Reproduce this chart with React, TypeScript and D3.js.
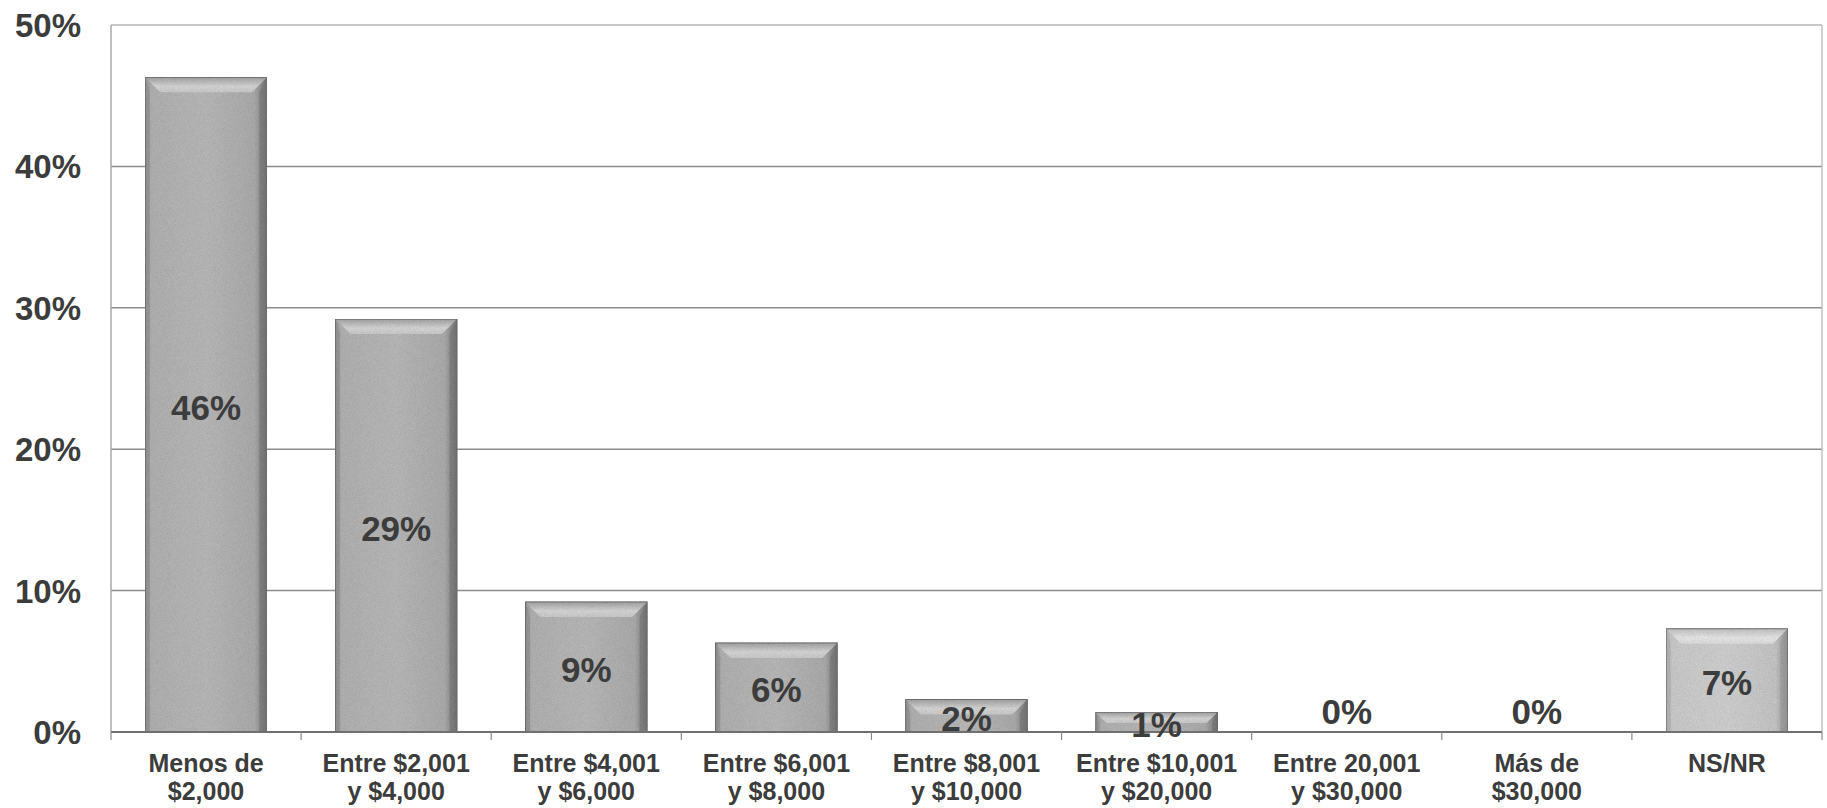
import React, { useEffect, useRef } from 'react';
import * as d3 from 'd3';

// categories (two-line labels) and values in percent
const categories: string[][] = [
  ['Menos de', '$2,000'],
  ['Entre $2,001', 'y $4,000'],
  ['Entre $4,001', 'y $6,000'],
  ['Entre $6,001', 'y $8,000'],
  ['Entre $8,001', 'y $10,000'],
  ['Entre $10,001', 'y $20,000'],
  ['Entre 20,001', 'y $30,000'],
  ['Más de', '$30,000'],
  ['NS/NR'],
];
const values = [46.3, 29.2, 9.2, 6.3, 2.3, 1.4, 0, 0, 7.3];
const valueLabels = ['46%', '29%', '9%', '6%', '2%', '1%', '0%', '0%', '7%'];
const yTicks = [0, 10, 20, 30, 40, 50];
const lightBar = [false, false, false, false, false, false, false, false, true];

const W = 1827;
const H = 808;
const margin = { top: 25, right: 5, bottom: 76, left: 111 };
const textColor = '#3c3c3c';

const Chart: React.FC = () => {
  const svgRef = useRef<SVGSVGElement>(null);

  useEffect(() => {
    if (!svgRef.current) return;
    const svg = d3.select(svgRef.current);
    svg.selectAll('*').remove();

    const x = d3.scaleBand<number>()
      .domain(d3.range(categories.length))
      .range([margin.left, W - margin.right])
      .padding(0);
    const y = d3.scaleLinear().domain([0, 50]).range([H - margin.bottom, margin.top]);

    const defs = svg.append('defs');
    const filter = defs.append('filter').attr('id', 'grain').attr('x', 0).attr('y', 0).attr('width', 1).attr('height', 1);
    filter.append('feTurbulence').attr('type', 'fractalNoise').attr('baseFrequency', 1.4).attr('numOctaves', 1).attr('seed', 3).attr('result', 'noise');
    filter.append('feColorMatrix').attr('in', 'noise').attr('type', 'matrix')
      .attr('values', '0 0 0 0 0  0 0 0 0 0  0 0 0 0 0  0 0 0 0.3 0').attr('result', 'dots');
    filter.append('feComposite').attr('in', 'dots').attr('in2', 'SourceGraphic').attr('operator', 'in').attr('result', 'clipped');
    const fm = filter.append('feMerge');
    fm.append('feMergeNode').attr('in', 'SourceGraphic');
    fm.append('feMergeNode').attr('in', 'clipped');

    const mkGrad = (id: string, horiz: boolean, stops: [number, string][]) => {
      const g = defs.append('linearGradient').attr('id', id)
        .attr('x1', 0).attr('y1', 0).attr('x2', horiz ? 1 : 0).attr('y2', horiz ? 0 : 1);
      stops.forEach(([o, c]) => g.append('stop').attr('offset', o).attr('stop-color', c));
    };
    mkGrad('bodyDark', true, [[0, '#999999'], [0.05, '#b8b8b8'], [0.5, '#bfbfbf'], [0.9, '#b2b2b2'], [0.97, '#8a8a8a'], [1, '#747474']]);
    mkGrad('bodyLight', true, [[0, '#bcbcbc'], [0.05, '#d2d2d2'], [0.5, '#d8d8d8'], [0.9, '#cccccc'], [0.97, '#a8a8a8'], [1, '#949494']]);
    mkGrad('topDark', false, [[0, '#a8a8a8'], [0.6, '#dedede'], [1, '#d2d2d2']]);
    mkGrad('topLight', false, [[0, '#c8c8c8'], [0.6, '#f0f0f0'], [1, '#e6e6e6']]);

    svg.append('rect').attr('width', W).attr('height', H).attr('fill', 'white');

    // grid lines
    svg.append('g').selectAll('line')
      .data(yTicks.filter(t => t > 0))
      .enter().append('line')
      .attr('x1', margin.left).attr('x2', W - margin.right)
      .attr('y1', d => y(d)).attr('y2', d => y(d))
      .attr('stroke', d => (d === 50 ? '#b4b4b4' : '#8c8c8c'))
      .attr('stroke-width', 1.5);

    // plot border (left, right)
    svg.append('line').attr('x1', margin.left).attr('x2', margin.left)
      .attr('y1', margin.top).attr('y2', y(0)).attr('stroke', '#a8a8a8').attr('stroke-width', 1.5);
    svg.append('line').attr('x1', W - margin.right).attr('x2', W - margin.right)
      .attr('y1', margin.top).attr('y2', y(0)).attr('stroke', '#c0c0c0').attr('stroke-width', 1.5);

    // y tick labels
    svg.append('g').selectAll('text')
      .data(yTicks)
      .enter().append('text')
      .attr('x', 81)
      .attr('y', d => y(d) + 12)
      .attr('text-anchor', 'end')
      .attr('font-family', '"Liberation Sans", Arial, sans-serif')
      .attr('font-weight', 'bold')
      .attr('font-size', 33)
      .attr('fill', textColor)
      .text(d => `${d}%`);

    // bars
    const barFrac = 0.64;
    const bars = svg.append('g');
    values.forEach((v, i) => {
      if (v <= 0) return;
      const bw = x.bandwidth() * barFrac;
      const x0 = (x(i) as number) + (x.bandwidth() - bw) / 2;
      const x1 = x0 + bw;
      const y0 = y(v);
      const y1 = y(0);
      const h = y1 - y0;
      const b = Math.min(15, h * 0.55);
      const g = bars.append('g').attr('filter', 'url(#grain)');
      const light = lightBar[i];
      g.append('rect').attr('x', x0).attr('y', y0).attr('width', bw).attr('height', h)
        .attr('fill', `url(#${light ? 'bodyLight' : 'bodyDark'})`);
      g.append('polygon')
        .attr('points', [[x0, y0], [x1, y0], [x1 - b, y0 + b], [x0 + b, y0 + b]].map(p => p.join(',')).join(' '))
        .attr('fill', `url(#${light ? 'topLight' : 'topDark'})`);
      g.append('polygon')
        .attr('points', [[x1, y0], [x1, y1], [x1 - b * 0.5, y1], [x1 - b * 0.5, y0 + b]].map(p => p.join(',')).join(' '))
        .attr('fill', light ? '#a0a0a0' : '#7c7c7c').attr('opacity', 0.6);
      g.append('polygon')
        .attr('points', [[x0, y0], [x0 + b * 0.3, y0 + b], [x0 + b * 0.3, y1], [x0, y1]].map(p => p.join(',')).join(' '))
        .attr('fill', light ? '#b4b4b4' : '#959595').attr('opacity', 0.6);
      g.append('rect').attr('x', x0).attr('y', y0).attr('width', bw).attr('height', h)
        .attr('fill', 'none').attr('stroke', '#727272').attr('stroke-width', 1);
    });

    // x axis line and ticks
    svg.append('line').attr('x1', margin.left).attr('x2', W - margin.right)
      .attr('y1', y(0)).attr('y2', y(0)).attr('stroke', '#707070').attr('stroke-width', 2);
    svg.append('g').selectAll('line')
      .data(d3.range(categories.length + 1))
      .enter().append('line')
      .attr('x1', d => margin.left + d * x.step()).attr('x2', d => margin.left + d * x.step())
      .attr('y1', y(0)).attr('y2', y(0) + 8)
      .attr('stroke', '#8a8a8a').attr('stroke-width', 1.2);

    // value labels
    svg.append('g').selectAll('text')
      .data(values)
      .enter().append('text')
      .attr('x', (_, i) => (x(i) as number) + x.bandwidth() / 2)
      .attr('y', d => (d > 0 ? (y(d) + y(0)) / 2 + 15 : y(0) - 8))
      .attr('text-anchor', 'middle')
      .attr('font-family', '"Liberation Sans", Arial, sans-serif')
      .attr('font-weight', 'bold')
      .attr('font-size', 35)
      .attr('fill', textColor)
      .text((_, i) => valueLabels[i]);

    // category labels
    const cat = svg.append('g').selectAll('text')
      .data(categories)
      .enter().append('text')
      .attr('x', (_, i) => (x(i) as number) + x.bandwidth() / 2)
      .attr('y', 772)
      .attr('text-anchor', 'middle')
      .attr('font-family', '"Liberation Sans", Arial, sans-serif')
      .attr('font-weight', 'bold')
      .attr('font-size', 25)
      .attr('fill', textColor);
    cat.selectAll('tspan')
      .data((d, i) => d.map(line => ({ line, i })))
      .enter().append('tspan')
      .attr('x', d => (x(d.i) as number) + x.bandwidth() / 2)
      .attr('dy', (_, j) => (j === 0 ? 0 : 28))
      .text(d => d.line);
  }, []);

  return <svg ref={svgRef} width={W} height={H} style={{ display: 'block' }} />;
};

export default function App() {
  return (
    <div style={{ position: 'absolute', left: 0, top: 0 }}>
      <Chart />
    </div>
  );
}
